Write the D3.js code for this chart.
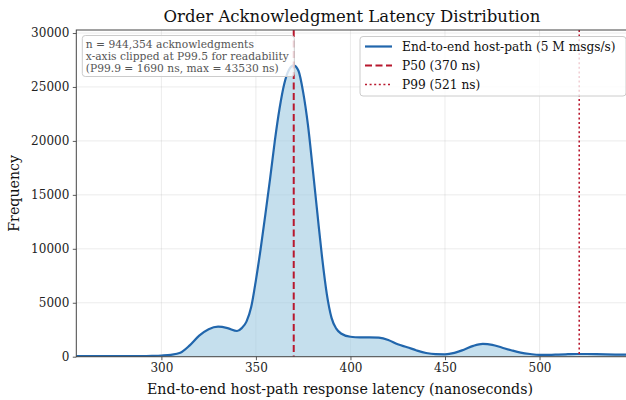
<!DOCTYPE html>
<html>
<head>
<meta charset="utf-8">
<script src="https://cdn.jsdelivr.net/npm/d3@7"></script>
<style>
	body { margin: 0; background: #fff; }
	svg { display: block; font-family: "DejaVu Serif", serif; }
</style>
</head>
<body>
<div class="c-svg"></div>
<script>
//DATA
//-------------------------------------------------------------------------

//latency (ns) and kde frequency
const latency = [255, 260, 270, 280, 290, 295, 300, 305, 310, 315, 320, 325, 330, 335, 340, 342.5, 345, 347.5, 350, 352.5, 355, 357.5, 360, 362.5, 365, 367.5, 370, 372.5, 375, 377.5, 380, 382.5, 385, 387.5, 390, 392.5, 395, 400, 405, 410, 415, 420, 425, 430, 435, 440, 445, 450, 455, 460, 465, 470, 475, 480, 485, 490, 495, 500, 505, 510, 515, 520, 525, 530, 535, 540, 546];
const frequency = [50, 50, 50, 50, 60, 80, 110, 170, 360, 1050, 1950, 2550, 2780, 2650, 2380, 2650, 3250, 4600, 7100, 10000, 13200, 16500, 20000, 23000, 25300, 26600, 27000, 26500, 24500, 21500, 17500, 13300, 9200, 5800, 3600, 2600, 2150, 1850, 1800, 1800, 1760, 1550, 1150, 880, 580, 340, 230, 220, 350, 650, 1000, 1180, 1100, 850, 600, 380, 250, 170, 170, 200, 230, 250, 250, 240, 220, 200, 190];

const xTicks = [300, 350, 400, 450, 500];
const yTicks = [0, 5000, 10000, 15000, 20000, 25000, 30000];

const p50 = 370;
const p99 = 521;
const xDomain = [255, 546];
const yDomain = [0, 30280];

const notes = [
	"n = 944,354 acknowledgments",
	"x-axis clipped at P99.5 for readability",
	"(P99.9 = 1690 ns, max = 43530 ns)"
];
const legendLabels = [
	"End-to-end host-path (5 M msgs/s)",
	"P50 (370 ns)",
	"P99 (521 ns)"
];

//OPTS
//-------------------------------------------------------------------------
const opts = {
	width: 626,
	height: 400,
	margin: { top: 30, right: -0.5, bottom: 43.3, left: 76.3 }
};
const inner = {
	width: opts.width - opts.margin.left - opts.margin.right,
	height: opts.height - opts.margin.top - opts.margin.bottom
};

const blue = "#2166ac";
const red = "#b8182e";

const svg = d3.select(".c-svg")
	.append("svg")
	.attr("width", opts.width)
	.attr("height", opts.height);

const g = svg.append("g")
	.attr("transform", `translate(${opts.margin.left} ${opts.margin.top})`);

const x = d3.scaleLinear().domain(xDomain).range([0, inner.width]);
const y = d3.scaleLinear().domain(yDomain).range([inner.height, 0]);

const points = latency.map((v, i) => [v, frequency[i]]);

//GRID
//-------------------------------------------------------------------------
g.append("g")
	.selectAll("line")
	.data(xTicks)
	.join("line")
	.attr("x1", d => x(d)).attr("x2", d => x(d))
	.attr("y1", 0).attr("y2", inner.height)
	.style("stroke", "#b0b0b0").style("stroke-opacity", .3).style("stroke-width", .8);

g.append("g")
	.selectAll("line")
	.data(yTicks)
	.join("line")
	.attr("x1", 0).attr("x2", inner.width)
	.attr("y1", d => y(d)).attr("y2", d => y(d))
	.style("stroke", "#b0b0b0").style("stroke-opacity", .3).style("stroke-width", .8);

//CURVE
//-------------------------------------------------------------------------
svg.append("clipPath").attr("id", "plot-clip")
	.append("rect").attr("width", inner.width).attr("height", inner.height);

const plot = g.append("g").attr("clip-path", "url(#plot-clip)");

plot.append("path")
	.datum(points)
	.attr("d", d3.area().x(d => x(d[0])).y0(y(0)).y1(d => y(d[1])).curve(d3.curveMonotoneX))
	.style("fill", "#9ecae1").style("fill-opacity", .6);

plot.append("path")
	.datum(points)
	.attr("d", d3.line().x(d => x(d[0])).y(d => y(d[1])).curve(d3.curveMonotoneX))
	.style("fill", "none").style("stroke", blue).style("stroke-width", 2.2);

//percentile lines
plot.append("line")
	.attr("x1", x(p50)).attr("x2", x(p50)).attr("y1", 0).attr("y2", inner.height)
	.style("stroke", red).style("stroke-width", 2).style("stroke-dasharray", "7,3.5");

plot.append("line")
	.attr("x1", x(p99)).attr("x2", x(p99)).attr("y1", 0).attr("y2", inner.height)
	.style("stroke", red).style("stroke-width", 1.6).style("stroke-dasharray", "2,2.6");

//AXES
//-------------------------------------------------------------------------
const xAxis = g.append("g")
	.attr("transform", `translate(0 ${inner.height})`)
	.call(d3.axisBottom(x).tickValues(xTicks).tickSize(3.5).tickPadding(3.5).tickFormat(d3.format("d")));

const yAxis = g.append("g")
	.call(d3.axisLeft(y).tickValues(yTicks).tickSize(3.5).tickPadding(3.5).tickFormat(d3.format("d")));

[xAxis, yAxis].forEach(a => {
	a.select(".domain").remove();
	a.selectAll(".tick line").style("stroke", "#333").style("stroke-width", .8);
	a.selectAll(".tick text")
		.style("font-family", "DejaVu Serif")
		.style("font-size", "12px")
		.style("fill", "#222");
});

//spines
g.append("rect")
	.attr("width", inner.width).attr("height", inner.height)
	.style("fill", "none").style("stroke", "#444").style("stroke-width", 1);

//labels
svg.append("text")
	.attr("x", 352).attr("y", 22)
	.attr("text-anchor", "middle")
	.style("font-size", "16.5px").style("fill", "#111")
	.text("Order Acknowledgment Latency Distribution");

svg.append("text")
	.attr("x", 340).attr("y", 394)
	.attr("text-anchor", "middle")
	.style("font-size", "14.2px").style("fill", "#111")
	.text("End-to-end host-path response latency (nanoseconds)");

svg.append("text")
	.attr("transform", `translate(19 ${opts.margin.top + inner.height / 2}) rotate(-90)`)
	.attr("text-anchor", "middle")
	.style("font-size", "14.2px").style("fill", "#111")
	.text("Frequency");

//NOTE BOX
//-------------------------------------------------------------------------
const note = g.append("g").attr("transform", "translate(6 5.5)");
note.append("rect")
	.attr("width", 212).attr("height", 41).attr("rx", 3)
	.style("fill", "#fff").style("fill-opacity", .8)
	.style("stroke", "#cccccc").style("stroke-width", 1);
note.selectAll("text")
	.data(notes)
	.join("text")
	.attr("x", 3.5).attr("y", (d, i) => 12 + i * 12)
	.style("font-size", "10.7px").style("fill", "#555")
	.text(d => d);

//LEGEND
//-------------------------------------------------------------------------
const legend = svg.append("g").attr("transform", "translate(360 36.5)");
legend.append("rect")
	.attr("width", 266).attr("height", 59.5).attr("rx", 3)
	.style("fill", "#fff").style("fill-opacity", .8)
	.style("stroke", "#cccccc").style("stroke-width", 1);

const styles = [
	{ stroke: blue, dash: null, w: 2.2 },
	{ stroke: red, dash: "7,3.5", w: 2 },
	{ stroke: red, dash: "2,2.6", w: 1.6 }
];

const items = legend.selectAll(".item")
	.data(legendLabels)
	.join("g")
	.attr("class", "item")
	.attr("transform", (d, i) => `translate(0 ${10 + i * 19})`);

items.append("line")
	.attr("x1", 5).attr("x2", 32).attr("y1", 0).attr("y2", 0)
	.style("stroke", (d, i) => styles[i].stroke)
	.style("stroke-width", (d, i) => styles[i].w)
	.style("stroke-dasharray", (d, i) => styles[i].dash);

items.append("text")
	.attr("x", 42).attr("y", 4.5)
	.style("font-size", "12.2px").style("fill", "#111")
	.text(d => d);
</script>
</body>
</html>
